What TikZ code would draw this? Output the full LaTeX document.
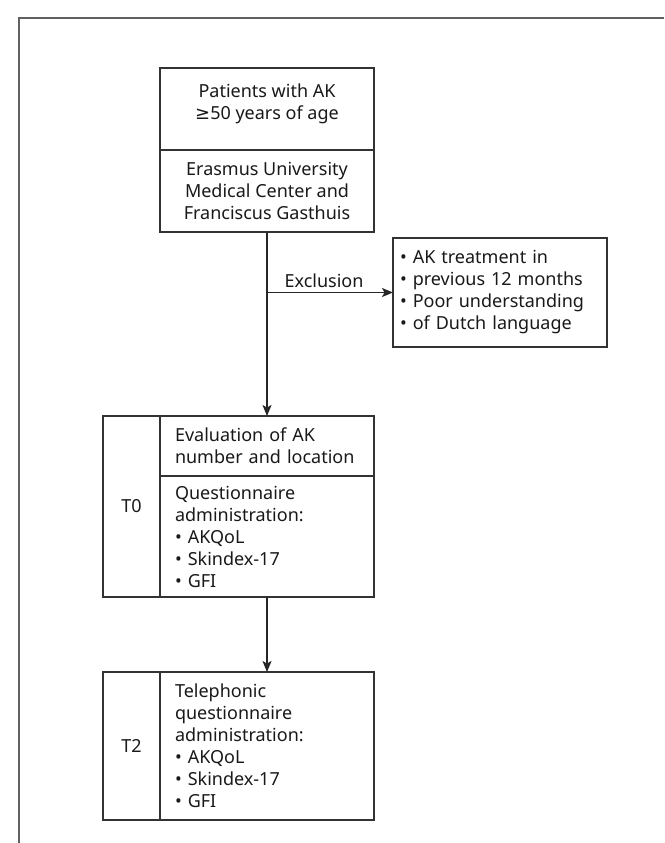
\documentclass[tikz,border=0pt]{standalone}
\usepackage{fontspec}
\setmainfont{Noto Sans}
\newfontfamily\symfnt{DejaVu Sans}
\usetikzlibrary{arrows.meta}
\begin{document}
\begin{tikzpicture}[x=1pt,y=-1pt,
  txt/.style={font=\fontsize{18}{22}\selectfont, text=black!90},
  cell/.style={draw=black!80, line width=1.3pt, txt, inner sep=0pt, outer sep=0pt},
  lcell/.style={cell, align=left, text width=#1},
  ccell/.style={cell, align=center},
  arr/.style={draw=black!85, line width=1.3pt, -{Stealth[length=11pt,width=9pt,inset=2.5pt]}},
  frame/.style={draw=black!62, line width=1.6pt}]
\useasboundingbox (0,0) rectangle (664,843);
% outer frame (open at right and bottom)
\draw[frame] (19,843) -- (19,18) -- (664,18);
% top box
\node[ccell, minimum width=214pt, minimum height=82pt] (p1) at (267,109) {Patients with AK\\ {\symfnt ≥}50 years of age\\[-8pt]\mbox{}};
\node[ccell, minimum width=214pt, minimum height=82pt] (p2) at (267,191) {Erasmus University\\ Medical Center and\\ Franciscus Gasthuis};
% exclusion box
\node[cell, align=left, minimum width=214pt, minimum height=109pt, text width=200pt] (ex) at (500,292.5) {• AK treatment in\\ • previous 12 months\\ • Poor understanding\\ • of Dutch language};
% T0
\node[ccell, minimum width=57pt, minimum height=181pt] (t0l) at (131.5,506.5) {T0};
\node[lcell=184pt, minimum width=214pt, minimum height=60pt] (t0a) at (267,446) {Evaluation of AK\\ number and location};
\node[lcell=184pt, minimum width=214pt, minimum height=121pt] (t0b) at (267,536.5) {Questionnaire\\ administration:\\ • AKQoL\\ • Skindex-17\\ • GFI};
% T2
\node[ccell, minimum width=57pt, minimum height=148pt] (t2l) at (131.5,746) {T2};
\node[lcell=184pt, minimum width=214pt, minimum height=148pt] (t2) at (267,746) {Telephonic\\ questionnaire\\ administration:\\ • AKQoL\\ • Skindex-17\\ • GFI};
% connectors
\coordinate (ex0) at (p2.south |- ex.west);
\draw[arr] (p2.south) -- (t0a.north);
\draw[arr] (ex0) -- node[txt, above, yshift=1pt, xshift=-6pt] (exl) {Exclusion} (ex.west);
\draw[arr] (t0b.south) -- (t2.north);
\end{tikzpicture}
\end{document}
